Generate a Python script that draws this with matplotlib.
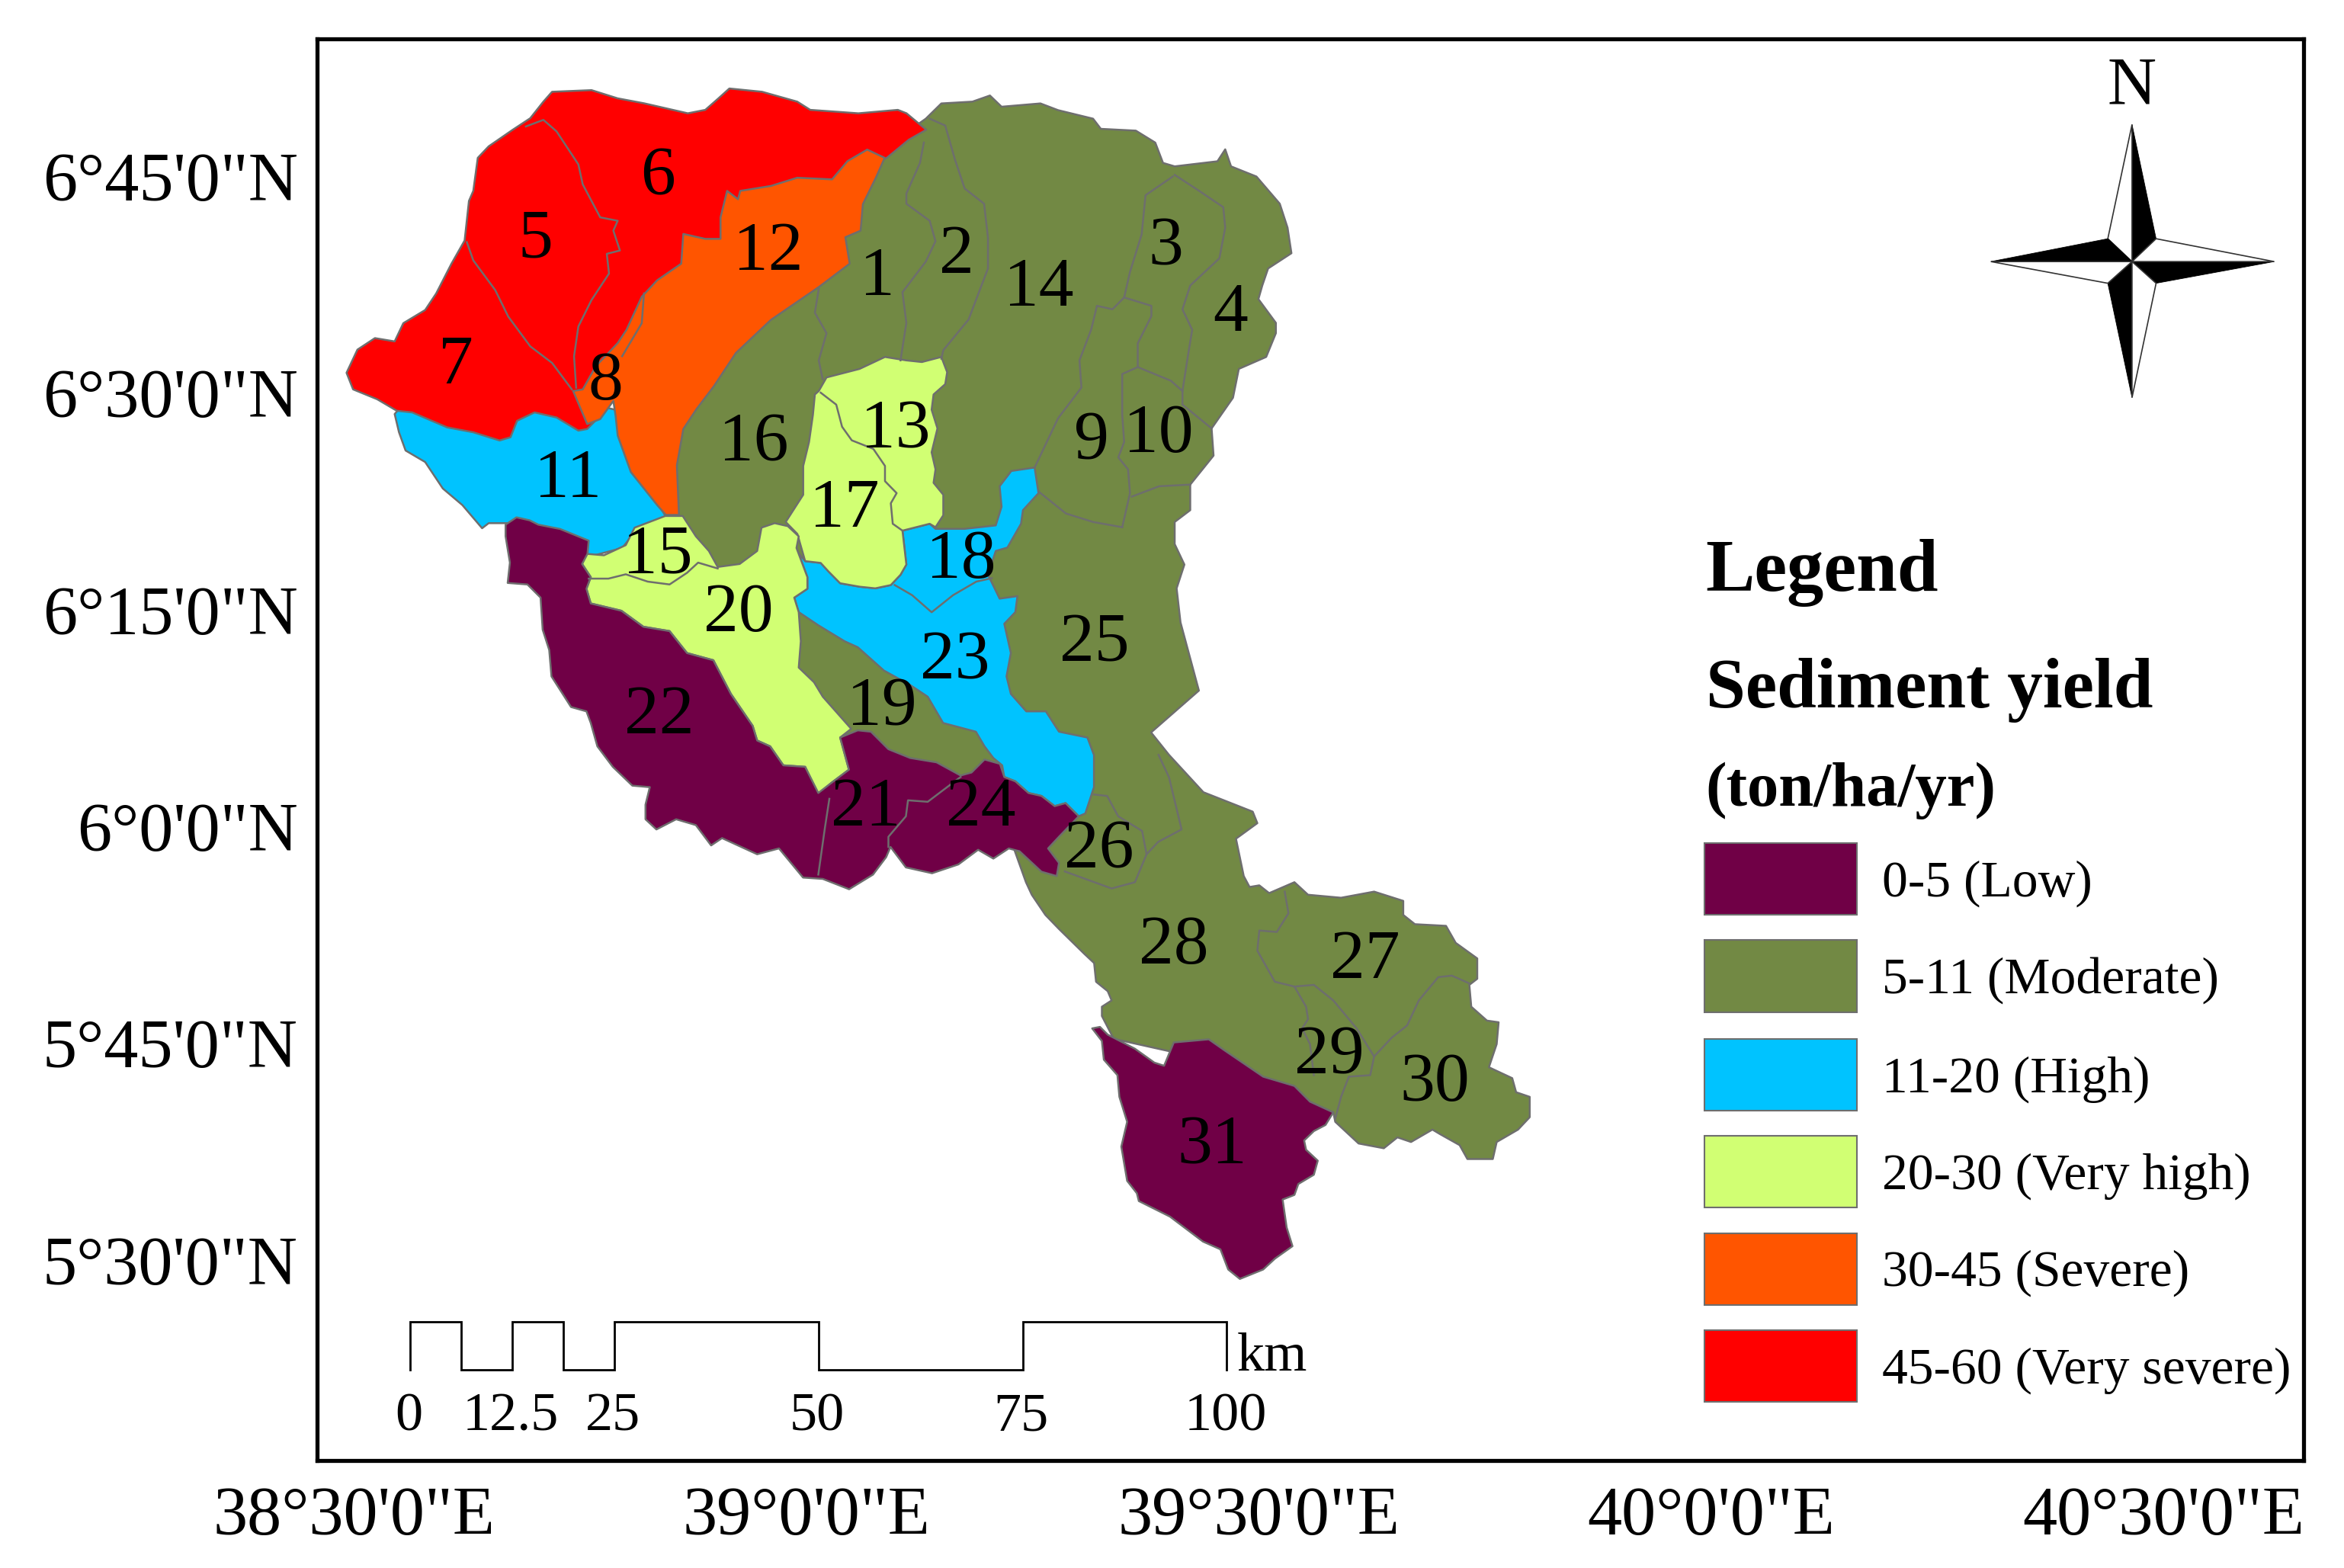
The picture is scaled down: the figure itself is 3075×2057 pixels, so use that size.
import matplotlib
matplotlib.use("Agg")
import matplotlib.pyplot as plt
from matplotlib.patches import Polygon, Rectangle

plt.rcParams['font.family'] = ['Liberation Serif', 'DejaVu Serif']

# ---- georeference of the digitised sheet (sheet units -> degrees)
X0, LON0, X_PER_DEG = 237.0, 38.5, 605.0
Y0, LAT0, Y_PER_DEG = 118.0, 6.75, 580.0
SHEET_W, SHEET_H = 1568.0, 1049.0
FRAME = (212.0, 1541.0, 26.0, 977.0)
TEXT_DY = 3.0


def lon(x):
    return LON0 + (x - X0) / X_PER_DEG


def lat(y):
    return LAT0 - (y - Y0) / Y_PER_DEG


def geo(points):
    return [(lon(x), lat(y)) for x, y in points]


# ---- classes
CLASS_LABELS = ['0-5 (Low)', '5-11 (Moderate)', '11-20 (High)', '20-30 (Very high)',
                '30-45 (Severe)', '45-60 (Very severe)']
CLASS_COLORS = ['#700046', '#728944', '#00C3FF', '#D1FF73', '#FF5500', '#FF0000']
PURPLE, OLIVE, BLUE, YELLOW, ORANGE, RED = CLASS_COLORS

# ---- digitised outlines
OLIVE_AREA = [(619.3,79.4),(629.7,69.2),(650.5,68),(662.2,63.9),(670,71.4),(696,69.2),(707.8,73.7),
 (731.2,79.4),(736.4,86.2),(759.8,87.4),(772.8,95.4),(778,109),(785.8,111.3),(814.4,107.9),(819.6,99.9),
 (823.5,111.3),(840.5,118.1),(856.1,136.3),(861.3,152.3),(863.9,169.4),(848.3,179.6),(844.4,191),
 (841.8,200.1),(853.5,216),(853.5,222.9),(847,238.8),(828.7,246.8),(824.8,266.1),(810.5,286.6),
 (811.8,304.8),(796.2,324.2),(796.2,341.3),(785.8,349.2),(785.8,364),(792.3,377.7),(787.1,393.6),
 (789.7,416.4),(802,462),(770,490),(782,505),(805,530),(838,543),(841.1,550.7),(826.8,561.1),(832,586.1),
 (835.9,593.4),(842.4,592.3),(849,597.5),(865.9,590.2),(875,598.6),(897.1,600.6),(919.2,596.5),
 (938.7,602.7),(938.7,612.1),(946.5,618.3),(967.3,619.4),(973.8,630.8),(988.2,641.2),(988.2,654.8),
 (982.9,658.9),(984.2,673.5),(994.7,682.8),(1002.5,683.9),(1001.2,698.5),(996,714),(1011.6,721.3),
 (1014.2,730.7),(1023.3,733.8),(1023.3,747.4),(1015.5,755.7),(1001.2,764),(998.6,775.4),(981.6,775.4),
 (976.4,766.1),(963.4,758.8),(958.2,755.7),(943.9,764),(934.8,760.9),(925.7,768.2),(908.8,765),
 (893.2,750.5),(891.9,744.2),(860,730),(790,705),(745,695),(737.1,679.7),(737.1,673.5),(743.6,669.3),
 (741,663.1),(733.2,656.8),(731.9,644.3),(725.3,638.1),(708.4,621.5),(699.3,612.1),(690.2,598.6),
 (686.3,590.2),(678.5,568.4),(640,540),(575,500),(555,495),(525,440),(520,400),(500,385),(470,380),
 (450,350),(445,320),(445,290),(470,240),(520,190),(560,140),(590,100)]

BLUE_11 = [(264,277),(266.9,289.2),(271.3,301.4),(284.4,309.1),(296.2,326.8),(309.3,337.9),(322.5,353.4),
 (326.9,350),(340,350),(395.7,372),(416.2,366.6),(425,355.6),(445.4,345.6),(430,320),(415,275),
 (395,270),(350,265),(300,265),(270,270)]

BLUE_18_23 = [(692.1,312.8),(676.5,315.1),(668.7,325.3),(670,339),(666.1,351.5),(645.3,353.8),(625.8,353.8),
 (621.9,350.4),(603.7,355),(606.3,377.7),(602.4,384.5),(595.9,391.4),(585.5,393.6),(575,392.5),(562,390.2),
 (554.2,382.3),(549,376.6),(538.6,375.4),(532.1,367.5),(532.8,366.6),(540.1,386.1),(540.1,393.9),
 (531.3,399.8),(534.3,409.5),(547.4,418.3),(565,429),(573.8,433),(591.3,448.6),(608.9,458.3),(620.6,466.1),
 (630.9,483.7),(652.8,489.5),(658.6,499.3),(664.5,507.1),(670.4,512),(671.8,519.8),(679.2,522.7),
 (688,530.5),(696.7,532.5),(705.5,539.3),(712.8,537.3),(721.6,546.1),(726,544.2),(731.8,526.6),
 (731.8,505.1),(727.4,493.4),(708.4,489.5),(699.6,475.9),(686.5,475.9),(676.2,464.2),(673.3,452.5),
 (676.2,436.9),(671.8,417.3),(679.2,409.5),(680.6,398.8),(668.7,400.5),(660.9,384.5),(666.1,368.6),
 (673.9,366.3),(683,350.4),(684.3,341.3),(694.7,329.9)]

RED_AREA = [(619.6,86.8),(606.4,75.8),(600.6,73.5),(574.2,75.8),(542,73.5),(533.3,68),(509.8,61.4),
 (487.9,59.2),(480.6,65.8),(471.8,73.5),(460.1,75.8),(430.8,69.1),(413.2,65.8),(395.7,60.3),(369.3,61.4),
 (363.5,68),(354.7,79.1),(343,86.8),(326.9,97.9),(319.6,105.6),(316.6,127.7),(313.7,134.4),(310.8,160.9),
 (302,176.4),(291.8,196.3),(284.4,207.4),(269.8,216.2),(264,228.4),(250.8,226.2),(239.1,233.9),
 (231.8,249.4),(236.2,260.5),(252.3,267.1),(265.4,274.8),(275.7,275.9),(299.1,285.9),(316.6,289.2),
 (334.2,294.7),(341.5,292.5),(345.9,281.5),(357.6,275.9),(372.3,279.3),(386.9,288.1),(392.8,287),
 (401.5,278.2),(413.2,245),(442.5,196.3),(477.6,169.8),(506.9,138.8),(577.2,112.3),(593.2,105.6),(607.9,93.5)]

ORANGE_AREA = [(591.8,105.6),(580.1,100.1),(566.9,107.8),(556.6,120),(533.3,118.9),(515.7,124.4),
 (495.2,127.7),(493.7,133.3),(486.4,127.7),(482,145.4),(482,159.8),(471.8,159.8),(457.1,156.5),
 (455.7,176.4),(439.6,187.5),(429.3,198.5),(419.1,220.6),(413.2,229.5),(398.6,245),(389.8,260.5),
 (383.4,261.6),(392.8,283.7),(401.5,280.4),(410.3,268.2),(411.8,278.2),(413.2,291.4),(422,315.8),
 (439.6,337.9),(445.4,344.5),(454.2,344.5),(452.8,311.3),(457.1,287),(465.9,273.7),(477.6,258.3),
 (492.3,236.1),(515.7,214),(547.9,191.9),(568.4,176.4),(565.5,158.7),(575.7,154.3),(577.2,136.6),(585.9,118.9)]

YELLOW_13_17 = [(547.7,261.6),(552.9,252.5),(575,246.8),(592,238.8),(606.3,241.1),(616.7,242.2),(629.7,238.8),
 (633.6,249),(632.3,257),(624.5,263.9),(623.2,274.1),(627.1,286.6),(623.2,302.6),(625.8,314),(624.5,323),
 (631,331),(631,344.7),(625.8,352.7),(621.9,350.4),(603.7,355),(606.3,377.7),(602.4,384.5),(595.9,391.4),
 (585.5,393.6),(575,392.5),(562,390.2),(554.2,382.3),(549,376.6),(538.6,375.4),(533.4,357.2),(525.6,349.2),
 (537.3,331),(537.3,311.7),(541.2,295.7),(543.8,277.5),(545.1,263.9)]

YELLOW_15_20 = [(392.3,370.5),(404,371.5),(418.6,364.7),(424.5,353),(445,345.2),(456.7,345.2),(465.5,358.8),
 (474.2,368.6),(480.1,379.3),(494.8,377.3),(506.5,368.6),(509.4,353),(518.2,350),(527,352),(534.3,358.8),
 (532.8,366.6),(540.1,386.1),(540.1,393.9),(531.3,399.8),(534.3,409.5),(535.7,429),(534.3,446.6),
 (544.5,456.4),(550.4,466.1),(569.4,487.6),(562,493.4),(567.9,514.9),(556.2,523.7),(547.4,531.5),
 (538.6,513),(524,512),(515.2,499.3),(506.5,495.4),(503.5,485.6),(488.9,464.2),(477.2,441.7),(459.6,436.9),
 (447.9,422.2),(430.4,419.3),(415.7,408.6),(395.2,403.7),(392.3,393.9),(395.2,386.1),(389.4,377.3)]

PURPLE_21_22_24 = [(338.2,351),(345.5,346.1),(354.3,348.1),(360.1,351),(374.7,353.9),(393.8,361.7),(393,370.5),
 (389.4,377.3),(395.2,386.1),(392.3,393.9),(395.2,403.7),(415.7,408.6),(430.4,419.3),(447.9,422.2),
 (459.6,436.9),(477.2,441.7),(488.9,464.2),(503.5,485.6),(506.5,495.4),(515.2,499.3),(524,512),(538.6,513),
 (547.4,530.5),(556.2,523.7),(567.9,514.9),(562,493.4),(573.8,488.6),(582.6,489.5),(594.3,501.2),
 (608.9,507.1),(626.5,510),(642.6,518.8),(649.9,516.8),(658.6,508.1),(668.9,511),(671.8,519.8),
 (679.2,522.7),(688,530.5),(696.7,532.5),(705.5,539.3),(712.8,537.3),(721.6,546.1),(708.4,559.8),
 (701.1,567.6),(708.4,577.3),(706.9,586.1),(696.7,583.2),(682,569.5),(674.8,567.6),(664.5,574.4),
 (654.3,568.5),(641.1,578.3),(623.5,584.2),(606,580.3),(595.7,566.6),(592.8,573.4),(584,585.1),(568,594.9),
 (550.4,588),(537.2,587.1),(521.1,567.6),(506.5,571.5),(483,560.7),(475.7,565.6),(465.5,552),(452.3,548.1),
 (439.1,554.9),(431.8,548.1),(431.8,538.3),(434.7,526.6),(423,525.6),(409.9,513),(399.6,499.3),(395.2,483.7),
 (392.3,475.9),(382,473),(368.9,452.5),(367.4,434.9),(363,421.2),(361.6,399.8),(352.8,391),(339.6,390),
 (341.1,376.4),(338.2,358.8)]

PURPLE_31 = [(730.6,688),(735.8,687),(741,692.2),(759.2,701.6),(772.2,710.9),(778.7,713),(785.2,697.4),
 (808.6,695.3),(819,702.6),(845,720.3),(865.9,726.5),(876.3,737),(891.9,744.2),(886.7,752.6),(878.9,756.7),
 (872.4,763),(873.7,769.2),(881.5,776.5),(878.9,785.9),(868.5,792.1),(865.9,799.4),(858,802.5),(860.7,821.2),
 (864.6,833.7),(852.9,842),(845,849.3),(829.4,855.6),(821.6,849.3),(816.4,835.8),(804.7,830.6),(782.6,813.9),
 (761.8,803.5),(760.5,798.3),(754,790),(750.1,767.1),(754,750.5),(748.8,733.8),(747.5,719.3),(738.4,708.9),
 (737.1,696.4)]

AREAS = [(OLIVE_AREA, OLIVE), (BLUE_11, BLUE), (BLUE_18_23, BLUE), (RED_AREA, RED), (ORANGE_AREA, ORANGE),
         (YELLOW_13_17, YELLOW), (YELLOW_15_20, YELLOW), (PURPLE_21_22_24, PURPLE), (PURPLE_31, PURPLE)]

# ---- sub-basin boundaries inside the coloured areas
BOUNDARIES = [
 [(351.8,84.6),(363.5,80.2),(372.3,87.9),(386.9,110),(389.8,123.3),(401.5,145.4),(413.2,147.7),(410.3,154.3),
  (414.7,167.6),(405.9,169.8),(407.4,183),(395.7,200.7),(386.9,218.4),(384,238.3),(385.4,259.4)],
 [(312.3,162),(316.6,174.2),(331.3,194.1),(340,211.8),(354.7,231.7),(369.3,242.8),(382.5,260.5)],
 [(430.8,196.3),(429.3,216.2),(416.2,238.3)],
 [(547.7,193.3),(545.1,209.2),(552.9,222.9),(547.7,241.1),(550.3,253.6)],
 [(618,95.4),(615.4,109),(606.3,129.5),(606.3,136.3),(621.9,147.7),(625.8,161.4),(619.3,175),(603.7,195.5),
  (606.3,216),(602.4,241.1)],
 [(621.9,79.4),(632.3,84),(638.8,106.7),(645.3,126.1),(658.3,136.3),(660.9,159.1),(660.9,179.6),(647.9,213.8),
  (631,234.3),(629.7,240)],
 [(784.5,118.1),(766.3,130.6),(763.7,156.8),(755.9,181.9),(752,199)],
 [(752,199),(744.2,206.9),(733.8,204.6),(729.9,220.6),(722.1,241.1),(723.4,259.3),(707.8,279.8),(692.1,312.8)],
 [(785.8,117),(801.4,127.2),(818.3,138.6),(819.6,152.3),(815.7,172.8),(796.2,191),(791,206.9),(797.5,220.6),
  (794.9,236.5),(791,261.6),(791,270.7),(810.5,286.6)],
 [(752,199),(770.2,204.6),(770.2,211.5),(761.1,229.7),(761.1,245.6)],
 [(761.1,245.6),(750.7,250.2),(750.7,277.5),(752,295.7),(748.1,306),(754.6,314),(755.9,329.9),(750.7,352.7)],
 [(761.1,245.6),(783.2,254.7),(791,261.6)],
 [(757.2,332.2),(775.4,325.3),(796.2,324.2)],
 [(694.7,328.8),(713,343.5),(731.2,349.2),(750.7,352.7)],
 [(549,262.7),(559.4,270.7),(563.3,285.5),(569.8,294.6),(584.2,300.3),(592,311.7),(592,321.9),(599.8,329.9),
  (595.9,336.7),(597.2,350.4),(603.7,355)],
 [(598.5,391.4),(610.2,398.2),(623.2,409.6),(637.5,398.2),(653.1,389.1),(663.5,386.8)],
 [(393.8,387.1),(407,387.1),(418.6,384.2),(433.3,389.1),(447.9,391),(459.6,383.2),(467,376.4),(480.1,380.3)],
 [(554.8,534.4),(551.8,553.9),(547.4,585.1)],
 [(642.6,519.8),(630.9,528.6),(620.6,536.4),(607.4,535.4),(606,546.1),(594.3,559.8),(594.3,566.6)],
 [(731.8,531.5),(740.6,532.5),(748,546.1),(764,555.9),(767,571.5),(759.2,590.2),(743.6,594.4),(712.3,583)],
 [(767,571.5),(774.8,563.2),(790.4,554.9),(782,520),(775,505)],
 [(859.4,596.5),(861.9,611),(854.1,623.5),(842.4,622.5),(841.1,636),(852.8,656.8),(865.9,660),(873.7,673.5),
  (875,681.8),(871.1,688),(876.3,698.5),(878.9,719.3)],
 [(865.9,660),(878.9,658.9),(891.9,669.3),(907.5,688),(919.2,706.8)],
 [(982.9,657.9),(971.2,652.7),(962.1,653.7),(949.1,669.3),(941.3,686),(930.9,694.3),(919.2,706.8),(916.6,719.3),
  (902.3,720.3),(897.1,733.8),(893.2,748.4)],
]

# ---- sub-basin numbers
BASIN_IDS = list(range(1, 32))
BASIN_X = [587,640,780,823,358,440,305,405,730,775,380,514,599,695,440,504,565,643,590,494,579,441,639,656,732,735,913,785,889,960,811]
BASIN_Y = [183,168,163,207,158,116,242,253,293,288,318,166,285,190,369,294,338,372,471,408,538,476,440,538,428,566,640,630,704,722,764]

# ---- graticule labels
LON_TICKS = [38.5, 39.0, 39.5, 40.0, 40.5]
LON_LABELS = ['38°30\'0"E', '39°0\'0"E', '39°30\'0"E', '40°0\'0"E', '40°30\'0"E']
LAT_TICKS = [6.75, 6.5, 6.25, 6.0, 5.75, 5.5]
LAT_LABELS = ['6°45\'0"N', '6°30\'0"N', '6°15\'0"N', '6°0\'0"N', '5°45\'0"N', '5°30\'0"N']

# ---- scale bar
BAR_KM_EDGES = [0, 6.25, 12.5, 18.75, 25, 50, 75, 100]
BAR_LABEL_KM = [0, 12.5, 25, 50, 75, 100]
BAR_LABELS = ['0', '12.5', '25', '50', '75', '100']
BAR_X0, BAR_PER_KM, BAR_TOP, BAR_BOTTOM, BAR_TEXT_Y = 274.4, 5.463, 884.3, 916.3, 945.0

# ---- compass
COMPASS_C = (1426.2, 175.0)
COMPASS_TIPS = [(1426.2, 83.3), (1521.3, 175.0), (1426.2, 266.0), (1331.8, 175.0)]
COMPASS_CORNERS = [(1442.3, 159.7), (1442.3, 189.5), (1410.0, 189.5), (1410.0, 159.7)]

# ---- legend
LEG_TITLES = [('Legend', 380, 69.5), ('Sediment yield', 459, 67), ('(ton/ha/yr)', 526, 59.5)]
LEG_ROW_TOPS = [564, 629, 695, 760, 825, 890]
LEG_SWATCH_X, LEG_SWATCH_W, LEG_SWATCH_H, LEG_TEXT_X = 1140, 102, 48, 1259

# ---- figure
fig = plt.figure(figsize=(30.75, 20.57), dpi=100)
l, r, t, b = FRAME
ax = fig.add_axes([l / SHEET_W, 1 - b / SHEET_H, (r - l) / SHEET_W, (b - t) / SHEET_H])
ax.set_xlim(lon(l), lon(r))
ax.set_ylim(lat(b), lat(t))
for s in ax.spines.values():
    s.set_linewidth(3.8)
    s.set_color('black')

ax.set_xticks(LON_TICKS, LON_LABELS, fontsize=65)
ax.set_yticks(LAT_TICKS, LAT_LABELS, fontsize=65)
ax.tick_params(axis='x', length=0, pad=24)
ax.tick_params(axis='y', length=0, pad=18)

EDGE = '#6E6E6E'
for pts, col in AREAS:
    ax.add_patch(Polygon(geo(pts), closed=True, facecolor=col, edgecolor=EDGE, linewidth=1.8, joinstyle='round'))
for line in BOUNDARIES:
    g = geo(line)
    ax.plot([p[0] for p in g], [p[1] for p in g], color=EDGE, lw=1.8)

for i, x, y in zip(BASIN_IDS, BASIN_X, BASIN_Y):
    ax.text(lon(x), lat(y + TEXT_DY), str(i), fontsize=66, ha='center', va='center', color='black')

# scale bar
xs, ys = [], []
for k, km in enumerate(BAR_KM_EDGES):
    x = BAR_X0 + km * BAR_PER_KM
    level = [BAR_BOTTOM, BAR_TOP] if k % 2 == 0 else [BAR_TOP, BAR_BOTTOM]
    xs += [lon(x), lon(x)]
    ys += [lat(level[0]), lat(level[1])]
ax.plot(xs, ys, color='black', lw=2.0, solid_joinstyle='miter')
for km, s in zip(BAR_LABEL_KM, BAR_LABELS):
    ax.text(lon(BAR_X0 + km * BAR_PER_KM - 1), lat(BAR_TEXT_Y + TEXT_DY), s, fontsize=52, ha='center', va='center')
ax.text(lon(851), lat(905 + TEXT_DY), 'km', fontsize=52, ha='center', va='center')

# compass
c = COMPASS_C
for i in range(4):
    a = COMPASS_TIPS[i]
    ax.add_patch(Polygon(geo([c, a, COMPASS_CORNERS[i]]), closed=True, facecolor='black', edgecolor='black', lw=0.6))
    prev = COMPASS_CORNERS[(i - 1) % 4]
    ax.add_patch(Polygon(geo([c, a, prev]), closed=True, facecolor='white', edgecolor='#333333', lw=1.2))
ax.text(lon(1426), lat(55 + TEXT_DY), 'N', fontsize=64, ha='center', va='center')

# legend
for s, y, size in LEG_TITLES:
    ax.text(lon(1141), lat(y + TEXT_DY), s, fontsize=size, fontweight='bold', ha='left', va='center')
for top, col, s in zip(LEG_ROW_TOPS, CLASS_COLORS, CLASS_LABELS):
    x0, y0 = lon(LEG_SWATCH_X), lat(top + LEG_SWATCH_H)
    ax.add_patch(Rectangle((x0, y0), LEG_SWATCH_W / X_PER_DEG, LEG_SWATCH_H / Y_PER_DEG,
                           facecolor=col, edgecolor=EDGE, lw=1.5))
    ax.text(lon(LEG_TEXT_X), lat(top + LEG_SWATCH_H / 2 + TEXT_DY), s, fontsize=48.6, ha='left', va='center')

fig.savefig('out.png', dpi=100, facecolor='white')
